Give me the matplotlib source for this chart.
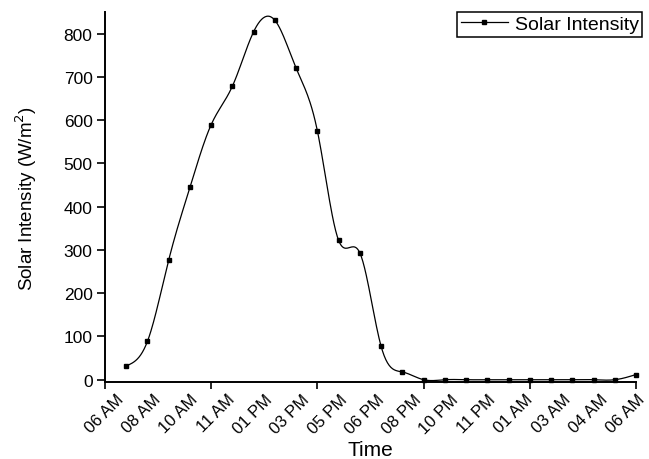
import numpy as np
import matplotlib
matplotlib.use('Agg')
import matplotlib.pyplot as plt

plt.rcParams['font.family'] = ['Liberation Sans', 'DejaVu Sans']

# Hourly readings (one point per step along the time axis)
step = np.arange(1, 26)
intensity = [32, 89, 277, 445, 590, 679, 805, 831, 720, 575, 322, 293, 77, 18,
             0, 0, 0, 0, 0, 0, 0, 0, 0, 0, 12]
time_labels = ['06 AM', '08 AM', '10 AM', '11 AM', '01 PM', '03 PM', '05 PM', '06 PM',
               '08 PM', '10 PM', '11 PM', '01 AM', '03 AM', '04 AM', '06 AM']


# natural cubic spline so the line looks like the smoothed Origin curve
def spline(x, y, xs):
    x = np.asarray(x, float)
    y = np.asarray(y, float)
    n = len(x)
    h = np.diff(x)
    A = np.zeros((n, n))
    b = np.zeros(n)
    A[0, 0] = A[-1, -1] = 1
    for i in range(1, n - 1):
        A[i, i - 1] = h[i - 1]
        A[i, i] = 2 * (h[i - 1] + h[i])
        A[i, i + 1] = h[i]
        b[i] = 6 * ((y[i + 1] - y[i]) / h[i] - (y[i] - y[i - 1]) / h[i - 1])
    M = np.linalg.solve(A, b)
    idx = np.clip(np.searchsorted(x, xs) - 1, 0, n - 2)
    x0, x1 = x[idx], x[idx + 1]
    hh = x1 - x0
    t0, t1 = x1 - xs, xs - x0
    return (M[idx] * t0 ** 3 + M[idx + 1] * t1 ** 3) / (6 * hh) \
        + (y[idx] / hh - M[idx] * hh / 6) * t0 + (y[idx + 1] / hh - M[idx + 1] * hh / 6) * t1


xs = np.linspace(step[0], step[-1], 600)
ys = spline(step, intensity, xs)

fig = plt.figure(figsize=(6.49, 4.60), dpi=100)
ax = fig.add_axes([0.1618, 0.1667, 0.8182, 0.8057])

ax.plot(xs, ys, color='black', lw=0.9, clip_on=False)
ax.plot(step, intensity, 's', color='black', ms=3.2, clip_on=False)
# proxy for legend
ax.plot([], [], '-s', color='black', lw=0.9, ms=3.2, label='Solar Intensity')

ax.set_xlim(0, 25)
ax.set_ylim(-6, 851)
ax.set_yticks(np.arange(0, 801, 100))
ax.set_xticks(np.arange(0, 26, 5))
ax.set_xticklabels([])

label_pos = np.linspace(0.5, 25.05, len(time_labels))
for p, lab in zip(label_pos, time_labels):
    ax.text(p, -0.024, lab, transform=ax.get_xaxis_transform(), rotation=45,
            ha='right', va='top', rotation_mode='anchor', fontsize=12)

for s in ['top', 'right']:
    ax.spines[s].set_visible(False)
for s in ['left', 'bottom']:
    ax.spines[s].set_linewidth(1.4)
ax.tick_params(axis='y', direction='out', length=6, width=1.2, labelsize=12.5, pad=3)
ax.tick_params(axis='x', direction='out', length=5, width=1.2)

ax.set_ylabel('Solar Intensity (W/m$^2$)', fontsize=13.5, labelpad=18)
fig.text(0.57, 0.0, 'Time', ha='center', va='bottom', fontsize=15)

leg = ax.legend(loc='upper right', bbox_to_anchor=(1.012, 1.0), fontsize=14,
                fancybox=False, framealpha=1, edgecolor='black',
                handlelength=2.4, borderpad=0.2, handletextpad=0.35, borderaxespad=0)
leg.get_frame().set_linewidth(1.1)

fig.savefig('out.png', dpi=100)
